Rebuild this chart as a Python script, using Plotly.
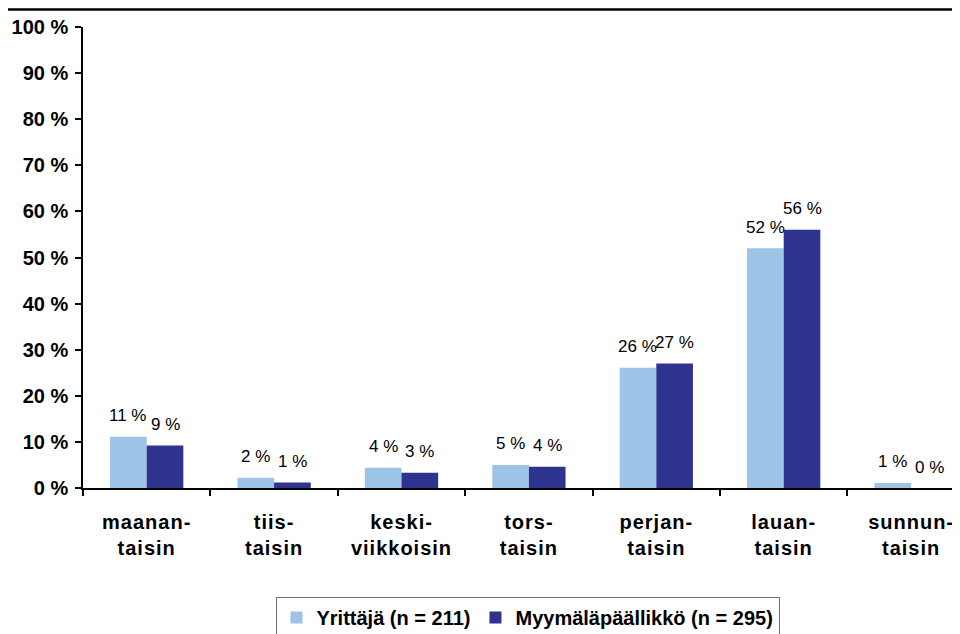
import plotly.graph_objects as go

categories = ["maanan-<br>taisin", "tiis-<br>taisin", "keski-<br>viikkoisin", "tors-<br>taisin",
              "perjan-<br>taisin", "lauan-<br>taisin", "sunnun-<br>taisin"]
yrittaja = [11.1, 2.2, 4.4, 5.0, 26.1, 52.0, 1.1]
myymala = [9.2, 1.2, 3.3, 4.6, 27.0, 56.0, 0.0]
yrittaja_labels = ["11 %", "2 %", "4 %", "5 %", "26 %", "52 %", "1 %"]
myymala_labels = ["9 %", "1 %", "3 %", "4 %", "27 %", "56 %", "0 %"]
y_ticks = [0, 10, 20, 30, 40, 50, 60, 70, 80, 90, 100]
y_ticktext = [f"{v} %" for v in y_ticks]
series_names = ["Yrittäjä (n = 211)", "Myymäläpäällikkö (n = 295)"]

colors = ["#9DC3E6", "#2E3390"]
FONT = "Liberation Sans, Arial, sans-serif"


def sp(text, px=1):
    return "<br>".join(f"<span style='letter-spacing:{px}px'>{t}</span>" for t in text.split("<br>"))


def ytick(t):
    # trailing letter-spacing on the last glyph nudges the right-aligned label away from the tick
    head, last = t[:-1], t[-1]
    return f"{head}<span style='letter-spacing:3px'>{last}</span>"


fig = go.Figure()
for name, vals, col in zip(series_names, [yrittaja, myymala], colors):
    fig.add_trace(go.Bar(x=categories, y=vals, name=name, marker=dict(color=col, line=dict(width=0)),
                         hoverinfo="skip"))

bargap = 0.425
half = (1 - bargap) / 4
annotations = []
for i in range(len(categories)):
    for vals, labels, sign in [(yrittaja, yrittaja_labels, -1), (myymala, myymala_labels, 1)]:
        annotations.append(dict(x=i + sign * half, y=vals[i], xref="x", yref="y", text=labels[i],
                                showarrow=False, yshift=21, yanchor="middle", xanchor="center",
                                font=dict(family=FONT, size=17, color="black")))

# page body has an 8px offset; plot area is placed at page x 83..968, y 27..488
PW = 885.0
def px_x(page_x):
    return (page_x - 83) / PW
def px_y(page_y):
    return (488 - page_y) / 461.0

shapes = [
    dict(type="line", xref="paper", yref="paper", x0=px_x(6.5), x1=1.02, y0=px_y(9.5), y1=px_y(9.5),
         line=dict(color="black", width=2.5)),
    dict(type="line", xref="paper", yref="paper", x0=px_x(6.5), x1=px_x(6.5), y0=px_y(9.5), y1=px_y(660),
         line=dict(color="black", width=2.5)),
]

fig.update_layout(
    width=960, height=634,
    margin=dict(l=75, r=0, t=19, b=154),
    paper_bgcolor="white", plot_bgcolor="white",
    barmode="group", bargap=bargap, bargroupgap=0,
    font=dict(family=FONT, color="black"),
    annotations=annotations, shapes=shapes,
    showlegend=True,
    legend=dict(orientation="h", x=px_x(527.5), xanchor="center", y=px_y(597), yanchor="top",
                bordercolor="#707070", borderwidth=1, bgcolor="white",
                font=dict(family=FONT, size=20, color="black", weight="bold"),
                itemwidth=30, tracegroupgap=0),
    xaxis=dict(type="category", range=[-0.5, -0.5 + PW / 127.4], showline=True, linecolor="black",
               linewidth=1.5, ticks="outside", tickson="boundaries", ticklen=6, tickcolor="black",
               tickwidth=1.5, showgrid=False, zeroline=False, ticklabelstandoff=15,
               tickmode="array", tickvals=categories, ticktext=[sp(c) for c in categories],
               tickfont=dict(family=FONT, size=20, color="black", weight="bold")),
    yaxis=dict(range=[0, 100], tickvals=y_ticks, ticktext=[ytick(t) for t in y_ticktext], showline=True,
               linecolor="black", linewidth=1.5, ticks="outside", ticklen=6, tickcolor="black",
               tickwidth=1.5, showgrid=False, zeroline=False, ticklabelstandoff=0,
               tickfont=dict(family=FONT, size=20, color="black", weight="bold")),
)

fig.write_html("out.html")
